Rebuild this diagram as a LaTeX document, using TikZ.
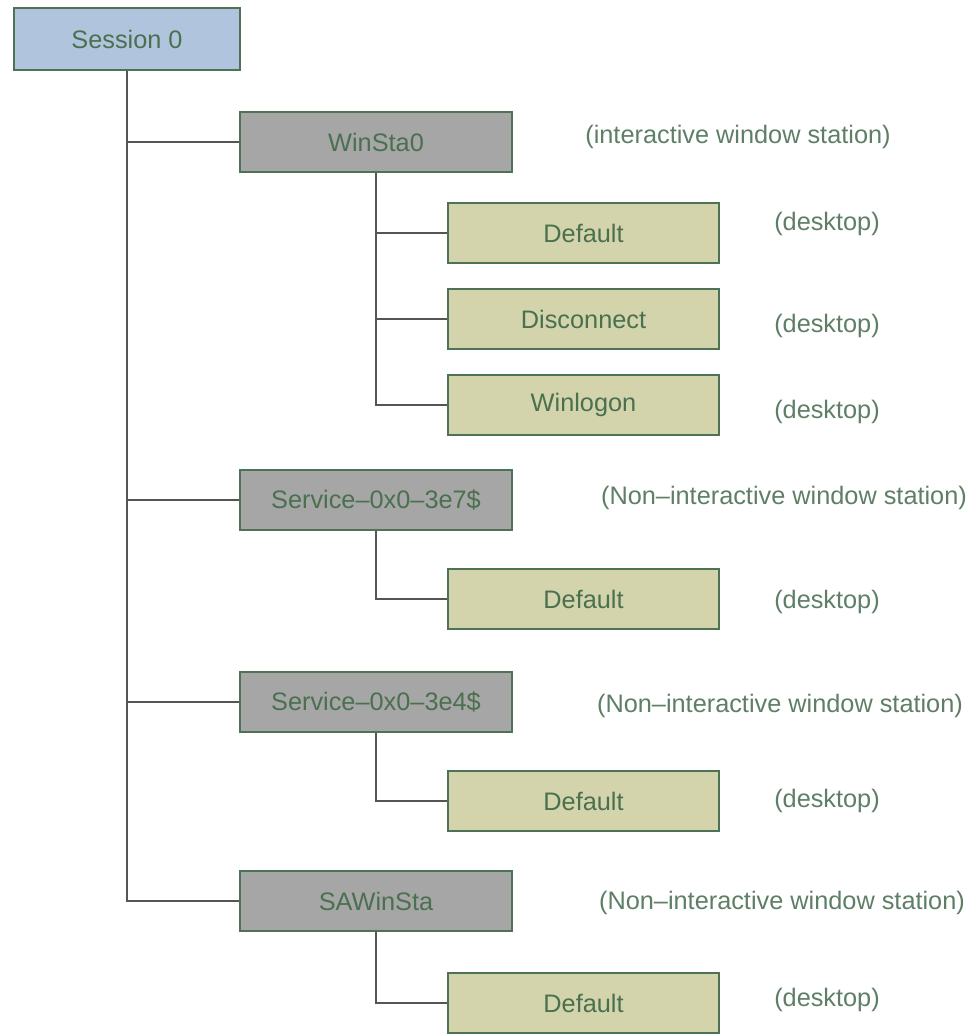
\documentclass[tikz,border=0pt]{standalone}
\usepackage{fontspec}
\setmainfont{Liberation Sans}
\usepackage{xcolor}

\definecolor{boxline}{HTML}{4E7256}
\definecolor{boxtext}{HTML}{4A7050}
\definecolor{notetext}{HTML}{5E7E66}
\definecolor{sessfill}{HTML}{B1C4DD}
\definecolor{stafill}{HTML}{A6A6A6}
\definecolor{deskfill}{HTML}{D3D4AB}
\definecolor{wire}{HTML}{555555}

\tikzset{
  sessbox/.style={draw=boxline, fill=sessfill, line width=2pt, text=boxtext,
    minimum width=5.65cm, minimum height=1.55cm, font=\fontsize{18}{20}\selectfont},
  stabox/.style={draw=boxline, fill=stafill, line width=2pt, text=boxtext,
    minimum width=6.8cm, minimum height=1.5cm, font=\fontsize{18}{20}\selectfont},
  deskbox/.style={draw=boxline, fill=deskfill, line width=2pt, text=boxtext,
    minimum width=6.775cm, minimum height=1.5cm, font=\fontsize{18}{20}\selectfont},
  note/.style={text=notetext, font=\fontsize{18}{20}\selectfont},
  wire/.style={draw=wire, line width=1.5pt}
}

\begin{document}
\begin{tikzpicture}[x=0.025cm, y=-0.025cm]
  % Fix the page to the size of the reference
  \useasboundingbox (0,0) rectangle (977,1034);

  % Session and window stations
  \node[sessbox] (sess) at (127,39) {Session 0};
  \node[stabox] (ws0) at (376,142) {WinSta0};
  \node[stabox] (svc7) at (376,500) {Service\textendash0x0\textendash3e7\$};
  \node[stabox] (svc4) at (376,702) {Service\textendash0x0\textendash3e4\$};
  \node[stabox] (sa) at (376,901) {SAWinSta};

  % Desktops
  \node[deskbox] (wsdef) at (583.5,233) {Default};
  \node[deskbox] (wsdis) at (583.5,319) {Disconnect};
  \node[deskbox] (wslog) at (583.5,405) {Winlogon};
  \node[deskbox] (svc7def) at (583.5,599) {Default};
  \node[deskbox] (svc4def) at (583.5,801) {Default};
  \node[deskbox] (sadef) at (583.5,1003) {Default};

  % Notes on the right
  \node[note] (ws0note) at (738,137) {(interactive window station)};
  \node[note] (svc7note) at (784,498) {(Non\textendash interactive window station)};
  \node[note] (svc4note) at (780,706) {(Non\textendash interactive window station)};
  \node[note] (sanote) at (782,903) {(Non\textendash interactive window station)};
  \node[note] (n1) at (827,224) {(desktop)};
  \node[note] (n2) at (827,326) {(desktop)};
  \node[note] (n3) at (827,412) {(desktop)};
  \node[note] (n4) at (827,602) {(desktop)};
  \node[note] (n5) at (827,801) {(desktop)};
  \node[note] (n6) at (827,1000) {(desktop)};

  % Tree lines
  \draw[wire] (sess.south) -- (sess.south |- sa.west) -- (sa.west);
  \foreach \sta in {ws0,svc7,svc4}
    \draw[wire] (sess.south |- \sta.west) -- (\sta.west);

  \draw[wire] (ws0.south) -- (ws0.south |- wslog.west) -- (wslog.west);
  \foreach \desk in {wsdef,wsdis}
    \draw[wire] (ws0.south |- \desk.west) -- (\desk.west);

  \draw[wire] (svc7.south) -- (svc7.south |- svc7def.west) -- (svc7def.west);
  \draw[wire] (svc4.south) -- (svc4.south |- svc4def.west) -- (svc4def.west);
  \draw[wire] (sa.south) -- (sa.south |- sadef.west) -- (sadef.west);
\end{tikzpicture}
\end{document}
